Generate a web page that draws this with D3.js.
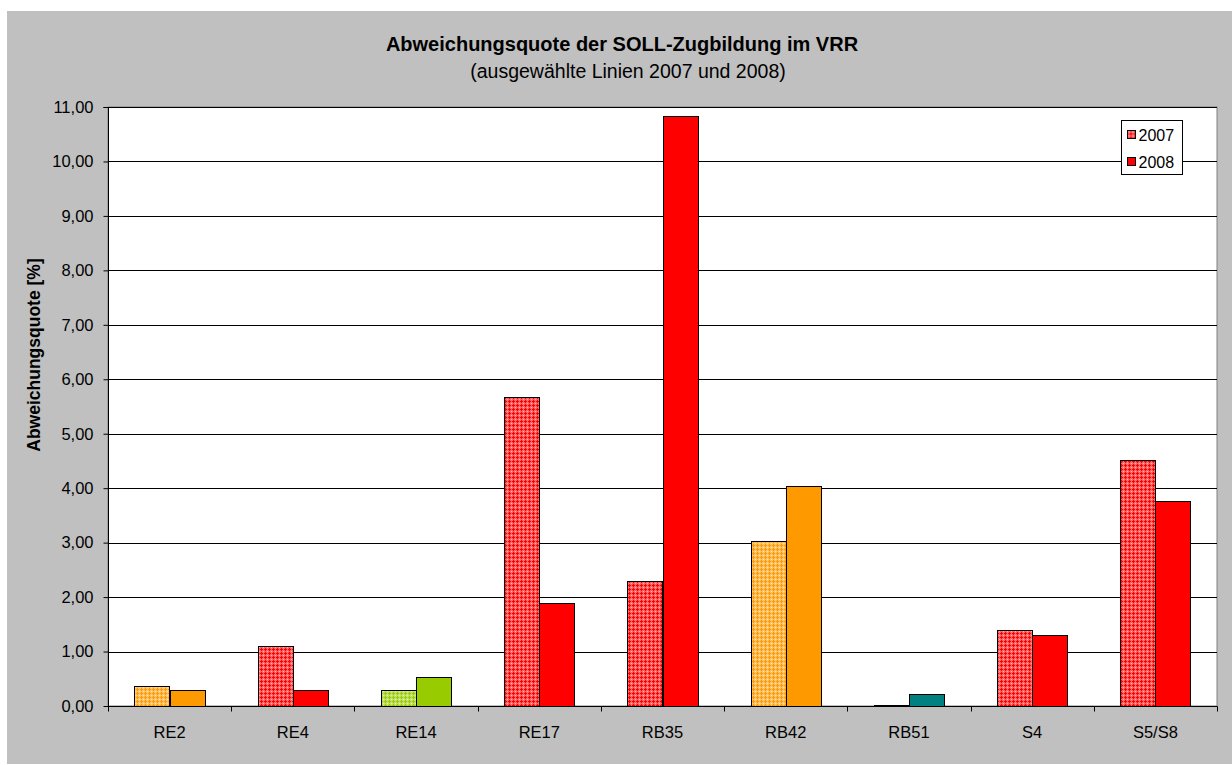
<!DOCTYPE html>
<html><head><meta charset="utf-8">
<script src="https://cdn.jsdelivr.net/npm/d3@7"></script>
<style>body{margin:0;background:#fff}svg{display:block;font-family:Arial,"Liberation Sans",sans-serif}</style>
</head><body>
<svg id="c" width="1232" height="765"></svg>
<script>
const categories = ["RE2","RE4","RE14","RE17","RB35","RB42","RB51","S4","S5/S8"];
const values2007 = [0.37,1.10,0.30,5.67,2.29,3.03,0.02,1.39,4.51];
const values2008 = [0.30,0.30,0.53,1.89,10.84,4.04,0.22,1.30,3.76];
const categoryColors = ["#FF9900","#FF0000","#99CC00","#FF0000","#FF0000","#FF9900","#008080","#FF0000","#FF0000"];
const yTicks = [0,1,2,3,4,5,6,7,8,9,10,11];
const seriesNames = ["2007","2008"];

const svg = d3.select("#c");
const W = 1232, H = 765;
const m = {left:108, right:1217, top:107, bottom:706};

svg.append("rect").attr("x",7).attr("y",11).attr("width",W-7).attr("height",753).attr("fill","#C0C0C0");

// patterns: coloured plus-shapes on a lighter grid (4px period)
const defs = svg.append("defs");
const uniq = Array.from(new Set(categoryColors));
uniq.forEach(c=>{
  const mid = d3.interpolateRgb(c,"#ffffff")(0.4);
  const light = d3.interpolateRgb(c,"#ffffff")(0.7);
  const p = defs.append("pattern").attr("id","pat"+c.slice(1)).attr("patternUnits","userSpaceOnUse")
    .attr("width",4).attr("height",4);
  p.append("rect").attr("width",4).attr("height",4).style("fill",mid);
  p.append("rect").attr("x",1).attr("y",0).attr("width",1).attr("height",3).style("fill",c);
  p.append("rect").attr("x",0).attr("y",1).attr("width",3).attr("height",1).style("fill",c);
  p.append("rect").attr("x",3).attr("y",3).attr("width",1).attr("height",1).style("fill",light);
});

const x = d3.scaleBand().domain(categories).range([m.left,m.right]).paddingInner(0.43).paddingOuter(0.215);
const xOuter = d3.scaleBand().domain(categories).range([m.left,m.right]);
const xs = d3.scaleBand().domain(seriesNames).range([0,x.bandwidth()]);
const y = d3.scaleLinear().domain([0,11]).range([m.bottom,m.top]);

svg.append("rect").attr("x",m.left).attr("y",m.top).attr("width",m.right-m.left).attr("height",m.bottom-m.top)
  .attr("fill","#fff").attr("stroke","#808080").attr("stroke-width",1);

// grid
svg.append("g").selectAll("line").data(yTicks.slice(1)).join("line")
  .attr("x1",m.left).attr("x2",m.right).attr("y1",d=>Math.round(y(d))+0.5).attr("y2",d=>Math.round(y(d))+0.5)
  .attr("stroke","#000").attr("stroke-width",1);

// bars
const g = svg.append("g");
categories.forEach((cat,i)=>{
  const x0 = x(cat);
  [values2007[i], values2008[i]].forEach((v,j)=>{
    const bx = Math.round(x0 + xs(seriesNames[j]))+0.5;
    const by = Math.round(y(v))+0.5;
    g.append("rect").attr("x",bx).attr("y",by).attr("width",Math.round(xs.bandwidth()))
      .attr("height",Math.max(0,Math.round(y(0))-Math.round(y(v))))
      .style("fill", j===0 ? "url(#pat"+categoryColors[i].slice(1)+")" : categoryColors[i])
      .attr("stroke","#000").attr("stroke-width",1);
  });
});

// y axis
const ya = svg.append("g").attr("transform",`translate(${m.left+0.5},0)`)
  .call(d3.axisLeft(y).tickValues(yTicks).tickSize(5).tickPadding(10)
    .tickFormat(d=>d3.format(".2f")(d).replace(".",",")));
ya.select(".domain").attr("stroke","#000").attr("d",`M-5,${m.top+0.5}H0V${m.bottom+0.5}`);
ya.selectAll(".tick line").attr("stroke","#000");
ya.selectAll("text").attr("font-size",16.5).attr("fill","#000").attr("font-family","Arial,'Liberation Sans',sans-serif");

// x axis
const xa = svg.append("g").attr("transform",`translate(0,${m.bottom+0.5})`);
xa.append("line").attr("x1",m.left).attr("x2",m.right+0.5).attr("stroke","#000");
xa.selectAll("line.t").data(categories.concat(["_end"])).join("line").attr("class","t")
  .attr("x1",(d,i)=>Math.round(i<categories.length?xOuter(d):m.right)+0.5)
  .attr("x2",(d,i)=>Math.round(i<categories.length?xOuter(d):m.right)+0.5)
  .attr("y1",0).attr("y2",5).attr("stroke","#000");
xa.selectAll("text").data(categories).join("text")
  .attr("x",d=>xOuter(d)+xOuter.bandwidth()/2).attr("y",31)
  .attr("text-anchor","middle").attr("font-size",16.5).attr("fill","#000").text(d=>d);

// titles
svg.append("text").attr("x",622).attr("y",51).attr("text-anchor","middle")
  .attr("font-size",20).attr("font-weight","bold").text("Abweichungsquote der SOLL-Zugbildung im VRR");
svg.append("text").attr("x",628).attr("y",78).attr("text-anchor","middle")
  .attr("font-size",19.5).text("(ausgewählte Linien 2007 und 2008)");
svg.append("text").attr("transform",`translate(40,${355}) rotate(-90)`).attr("text-anchor","middle")
  .attr("font-size",17.5).attr("font-weight","bold").text("Abweichungsquote [%]");

// legend
const lg = svg.append("g").attr("transform","translate(1121.5,120.5)");
lg.append("rect").attr("width",61).attr("height",54).attr("fill","#fff").attr("stroke","#000");
seriesNames.forEach((s,j)=>{
  const yy = 10 + j*27;
  lg.append("rect").attr("x",6).attr("y",yy).attr("width",8).attr("height",8)
    .style("fill", j===0 ? "url(#patFF0000)" : "#FF0000").attr("stroke","#000");
  lg.append("text").attr("x",17).attr("y",yy+10).attr("font-size",16).text(s);
});
</script>
</body></html>
